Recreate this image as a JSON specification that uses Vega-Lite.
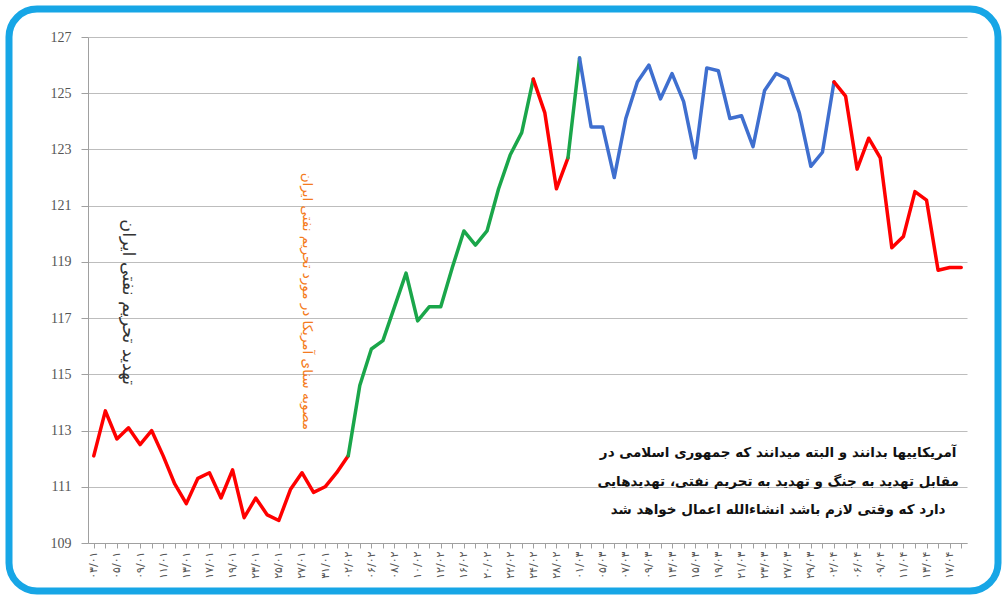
{
  "$schema": "https://vega.github.io/schema/vega-lite/v6.json",
  "width": 989,
  "height": 582,
  "autosize": {"type": "none"},
  "padding": {"left": 9, "top": 9, "right": 8, "bottom": 4},
  "background": "white",
  "config": {"view": {"stroke": "#17A6E6", "strokeWidth": 7, "cornerRadius": 28, "fill": "white"}},
  "datasets": {
    "series": [
      {"d": "۰۳/۰۱", "i": 0, "v": 112.1, "seg": 1, "phase": "decline"},
      {"d": "۰۴/۰۱", "i": 1, "v": 113.7, "seg": 1, "phase": "decline"},
      {"d": "۰۵/۰۱", "i": 2, "v": 112.7, "seg": 1, "phase": "decline"},
      {"d": "۰۸/۰۱", "i": 3, "v": 113.1, "seg": 1, "phase": "decline"},
      {"d": "۰۹/۰۱", "i": 4, "v": 112.5, "seg": 1, "phase": "decline"},
      {"d": "۱۰/۰۱", "i": 5, "v": 113.0, "seg": 1, "phase": "decline"},
      {"d": "۱۱/۰۱", "i": 6, "v": 112.1, "seg": 1, "phase": "decline"},
      {"d": "۱۲/۰۱", "i": 7, "v": 111.1, "seg": 1, "phase": "decline"},
      {"d": "۱۳/۰۱", "i": 8, "v": 110.4, "seg": 1, "phase": "decline"},
      {"d": "۱۶/۰۱", "i": 9, "v": 111.3, "seg": 1, "phase": "decline"},
      {"d": "۱۷/۰۱", "i": 10, "v": 111.5, "seg": 1, "phase": "decline"},
      {"d": "۱۸/۰۱", "i": 11, "v": 110.6, "seg": 1, "phase": "decline"},
      {"d": "۱۹/۰۱", "i": 12, "v": 111.6, "seg": 1, "phase": "decline"},
      {"d": "۲۰/۰۱", "i": 13, "v": 109.9, "seg": 1, "phase": "decline"},
      {"d": "۲۳/۰۱", "i": 14, "v": 110.6, "seg": 1, "phase": "decline"},
      {"d": "۲۴/۰۱", "i": 15, "v": 110.0, "seg": 1, "phase": "decline"},
      {"d": "۲۵/۰۱", "i": 16, "v": 109.8, "seg": 1, "phase": "decline"},
      {"d": "۲۶/۰۱", "i": 17, "v": 110.9, "seg": 1, "phase": "decline"},
      {"d": "۲۷/۰۱", "i": 18, "v": 111.5, "seg": 1, "phase": "decline"},
      {"d": "۳۰/۰۱", "i": 19, "v": 110.8, "seg": 1, "phase": "decline"},
      {"d": "۳۱/۰۱", "i": 20, "v": 111.0, "seg": 1, "phase": "decline"},
      {"d": "۰۱/۰۲", "i": 21, "v": 111.5, "seg": 1, "phase": "decline"},
      {"d": "۰۲/۰۲", "i": 22, "v": 112.1, "seg": 1, "phase": "decline"},
      {"d": "۰۲/۰۲", "i": 22, "v": 112.1, "seg": 2, "phase": "rise"},
      {"d": "۰۳/۰۲", "i": 23, "v": 114.6, "seg": 2, "phase": "rise"},
      {"d": "۰۶/۰۲", "i": 24, "v": 115.9, "seg": 2, "phase": "rise"},
      {"d": "۰۷/۰۲", "i": 25, "v": 116.2, "seg": 2, "phase": "rise"},
      {"d": "۰۸/۰۲", "i": 26, "v": 117.4, "seg": 2, "phase": "rise"},
      {"d": "۰۹/۰۲", "i": 27, "v": 118.6, "seg": 2, "phase": "rise"},
      {"d": "۱۰/۰۲", "i": 28, "v": 116.9, "seg": 2, "phase": "rise"},
      {"d": "۱۱/۰۲", "i": 29, "v": 117.4, "seg": 2, "phase": "rise"},
      {"d": "۱۲/۰۲", "i": 30, "v": 117.4, "seg": 2, "phase": "rise"},
      {"d": "۱۵/۰۲", "i": 31, "v": 118.8, "seg": 2, "phase": "rise"},
      {"d": "۱۶/۰۲", "i": 32, "v": 120.1, "seg": 2, "phase": "rise"},
      {"d": "۱۷/۰۲", "i": 33, "v": 119.6, "seg": 2, "phase": "rise"},
      {"d": "۲۰/۰۲", "i": 34, "v": 120.1, "seg": 2, "phase": "rise"},
      {"d": "۲۱/۰۲", "i": 35, "v": 121.6, "seg": 2, "phase": "rise"},
      {"d": "۲۲/۰۲", "i": 36, "v": 122.8, "seg": 2, "phase": "rise"},
      {"d": "۲۳/۰۲", "i": 37, "v": 123.6, "seg": 2, "phase": "rise"},
      {"d": "۲۴/۰۲", "i": 38, "v": 125.5, "seg": 2, "phase": "rise"},
      {"d": "۲۴/۰۲", "i": 38, "v": 125.5, "seg": 3, "phase": "decline"},
      {"d": "۲۷/۰۲", "i": 39, "v": 124.3, "seg": 3, "phase": "decline"},
      {"d": "۲۸/۰۲", "i": 40, "v": 121.6, "seg": 3, "phase": "decline"},
      {"d": "۲۹/۰۲", "i": 41, "v": 122.7, "seg": 3, "phase": "decline"},
      {"d": "۲۹/۰۲", "i": 41, "v": 122.7, "seg": 4, "phase": "rise"},
      {"d": "۰۱/۰۳", "i": 42, "v": 126.25, "seg": 4, "phase": "rise"},
      {"d": "۰۱/۰۳", "i": 42, "v": 126.25, "seg": 5, "phase": "range"},
      {"d": "۰۴/۰۳", "i": 43, "v": 123.8, "seg": 5, "phase": "range"},
      {"d": "۰۵/۰۳", "i": 44, "v": 123.8, "seg": 5, "phase": "range"},
      {"d": "۰۶/۰۳", "i": 45, "v": 122.0, "seg": 5, "phase": "range"},
      {"d": "۰۷/۰۳", "i": 46, "v": 124.1, "seg": 5, "phase": "range"},
      {"d": "۰۸/۰۳", "i": 47, "v": 125.4, "seg": 5, "phase": "range"},
      {"d": "۰۹/۰۳", "i": 48, "v": 126.0, "seg": 5, "phase": "range"},
      {"d": "۱۲/۰۳", "i": 49, "v": 124.8, "seg": 5, "phase": "range"},
      {"d": "۱۳/۰۳", "i": 50, "v": 125.7, "seg": 5, "phase": "range"},
      {"d": "۱۴/۰۳", "i": 51, "v": 124.7, "seg": 5, "phase": "range"},
      {"d": "۱۵/۰۳", "i": 52, "v": 122.7, "seg": 5, "phase": "range"},
      {"d": "۱۶/۰۳", "i": 53, "v": 125.9, "seg": 5, "phase": "range"},
      {"d": "۱۹/۰۳", "i": 54, "v": 125.8, "seg": 5, "phase": "range"},
      {"d": "۲۰/۰۳", "i": 55, "v": 124.1, "seg": 5, "phase": "range"},
      {"d": "۲۱/۰۳", "i": 56, "v": 124.2, "seg": 5, "phase": "range"},
      {"d": "۲۲/۰۳", "i": 57, "v": 123.1, "seg": 5, "phase": "range"},
      {"d": "۲۳/۰۳", "i": 58, "v": 125.1, "seg": 5, "phase": "range"},
      {"d": "۲۶/۰۳", "i": 59, "v": 125.7, "seg": 5, "phase": "range"},
      {"d": "۲۷/۰۳", "i": 60, "v": 125.5, "seg": 5, "phase": "range"},
      {"d": "۲۸/۰۳", "i": 61, "v": 124.3, "seg": 5, "phase": "range"},
      {"d": "۲۹/۰۳", "i": 62, "v": 122.4, "seg": 5, "phase": "range"},
      {"d": "۳۰/۰۳", "i": 63, "v": 122.9, "seg": 5, "phase": "range"},
      {"d": "۰۲/۰۴", "i": 64, "v": 125.4, "seg": 5, "phase": "range"},
      {"d": "۰۲/۰۴", "i": 64, "v": 125.4, "seg": 6, "phase": "decline"},
      {"d": "۰۳/۰۴", "i": 65, "v": 124.9, "seg": 6, "phase": "decline"},
      {"d": "۰۶/۰۴", "i": 66, "v": 122.3, "seg": 6, "phase": "decline"},
      {"d": "۰۸/۰۴", "i": 67, "v": 123.4, "seg": 6, "phase": "decline"},
      {"d": "۰۹/۰۴", "i": 68, "v": 122.7, "seg": 6, "phase": "decline"},
      {"d": "۱۰/۰۴", "i": 69, "v": 119.5, "seg": 6, "phase": "decline"},
      {"d": "۱۱/۰۴", "i": 70, "v": 119.9, "seg": 6, "phase": "decline"},
      {"d": "۱۲/۰۴", "i": 71, "v": 121.5, "seg": 6, "phase": "decline"},
      {"d": "۱۳/۰۴", "i": 72, "v": 121.2, "seg": 6, "phase": "decline"},
      {"d": "۱۶/۰۴", "i": 73, "v": 118.7, "seg": 6, "phase": "decline"},
      {"d": "۱۷/۰۴", "i": 74, "v": 118.8, "seg": 6, "phase": "decline"},
      {"d": "۱۸/۰۴", "i": 75, "v": 118.8, "seg": 6, "phase": "decline"}
    ]
  },
  "layer": [
    {
      "data": {"name": "series"},
      "mark": {"type": "line", "strokeWidth": 3.5, "strokeJoin": "round", "strokeCap": "round"},
      "encoding": {
        "x": {
          "field": "d",
          "type": "ordinal",
          "scale": {
            "domain": ["۰۳/۰۱","۰۴/۰۱","۰۵/۰۱","۰۸/۰۱","۰۹/۰۱","۱۰/۰۱","۱۱/۰۱","۱۲/۰۱","۱۳/۰۱","۱۶/۰۱","۱۷/۰۱","۱۸/۰۱","۱۹/۰۱","۲۰/۰۱","۲۳/۰۱","۲۴/۰۱","۲۵/۰۱","۲۶/۰۱","۲۷/۰۱","۳۰/۰۱","۳۱/۰۱","۰۱/۰۲","۰۲/۰۲","۰۳/۰۲","۰۶/۰۲","۰۷/۰۲","۰۸/۰۲","۰۹/۰۲","۱۰/۰۲","۱۱/۰۲","۱۲/۰۲","۱۵/۰۲","۱۶/۰۲","۱۷/۰۲","۲۰/۰۲","۲۱/۰۲","۲۲/۰۲","۲۳/۰۲","۲۴/۰۲","۲۷/۰۲","۲۸/۰۲","۲۹/۰۲","۰۱/۰۳","۰۴/۰۳","۰۵/۰۳","۰۶/۰۳","۰۷/۰۳","۰۸/۰۳","۰۹/۰۳","۱۲/۰۳","۱۳/۰۳","۱۴/۰۳","۱۵/۰۳","۱۶/۰۳","۱۹/۰۳","۲۰/۰۳","۲۱/۰۳","۲۲/۰۳","۲۳/۰۳","۲۶/۰۳","۲۷/۰۳","۲۸/۰۳","۲۹/۰۳","۳۰/۰۳","۰۲/۰۴","۰۳/۰۴","۰۶/۰۴","۰۸/۰۴","۰۹/۰۴","۱۰/۰۴","۱۱/۰۴","۱۲/۰۴","۱۳/۰۴","۱۶/۰۴","۱۷/۰۴","۱۸/۰۴"],
            "range": [79, 958],
            "padding": 0.5
          },
          "axis": {
            "title": null,
            "offset": -48,
            "grid": false,
            "domainColor": "#A0A0A0",
            "tickColor": "#A0A0A0",
            "tickSize": 5,
            "labelAngle": -90,
            "labelFont": "DejaVu Sans",
            "labelFontSize": 11,
            "labelColor": "#555555",
            "labelPadding": 3,
            "labelOverlap": false,
            "labelExpr": "round(datum.index * 75) % 2 == 0 ? datum.label : ''"
          }
        },
        "y": {
          "field": "v",
          "type": "quantitative",
          "scale": {"domain": [109, 127], "range": [534, 28], "nice": false, "zero": false},
          "axis": {
            "title": null,
            "offset": -79,
            "values": [109, 111, 113, 115, 117, 119, 121, 123, 125, 127],
            "grid": true,
            "gridColor": "#BDBDBD",
            "gridWidth": 1,
            "domainColor": "#A0A0A0",
            "tickColor": "#A0A0A0",
            "tickSize": 7,
            "labelFont": "Liberation Serif",
            "labelFontSize": 14,
            "labelColor": "#555555",
            "labelPadding": 10
          }
        },
        "color": {
          "field": "phase",
          "type": "nominal",
          "scale": {"domain": ["decline", "rise", "range"], "range": ["#FF0000", "#1AA64A", "#3F6FCF"]},
          "legend": null
        },
        "detail": {"field": "seg", "type": "nominal"},
        "order": {"field": "i", "type": "quantitative"}
      }
    },
    {
      "data": {"values": [{"note": "تهدید تحریم نفتی ایران"}]},
      "mark": {"type": "text", "angle": 90, "font": "DejaVu Sans", "fontSize": 17.5, "color": "#333333", "align": "center", "baseline": "middle", "dx": 1},
      "encoding": {
        "x": {"datum": "۰۸/۰۱", "type": "ordinal"},
        "y": {"datum": 117.6, "type": "quantitative"},
        "text": {"field": "note"}
      }
    },
    {
      "data": {"values": [{"note": "مصوبه سنای آمریکا در مورد تحریم نفتی ایران"}]},
      "mark": {"type": "text", "angle": 90, "font": "DejaVu Sans", "fontSize": 13.5, "color": "#F47B20", "align": "center", "baseline": "middle", "dy": -5},
      "encoding": {
        "x": {"datum": "۲۷/۰۱", "type": "ordinal"},
        "y": {"datum": 117.6, "type": "quantitative"},
        "text": {"field": "note"}
      }
    },
    {
      "data": {"values": [{"note": "آمریکاییها بدانند و البته میدانند که جمهوری اسلامی در\nمقابل تهدید به جنگ و تهدید به تحریم نفتی، تهدیدهایی\nدارد که وقتی لازم باشد انشاءالله اعمال خواهد شد"}]},
      "mark": {"type": "text", "lineBreak": "\n", "lineHeight": 28.5, "font": "DejaVu Sans", "fontWeight": "bold", "fontSize": 13.5, "color": "#111111", "align": "center", "baseline": "middle", "dx": 2},
      "encoding": {
        "x": {"datum": "۲۶/۰۳", "type": "ordinal"},
        "y": {"datum": 112.2, "type": "quantitative"},
        "text": {"field": "note"}
      }
    }
  ]
}
